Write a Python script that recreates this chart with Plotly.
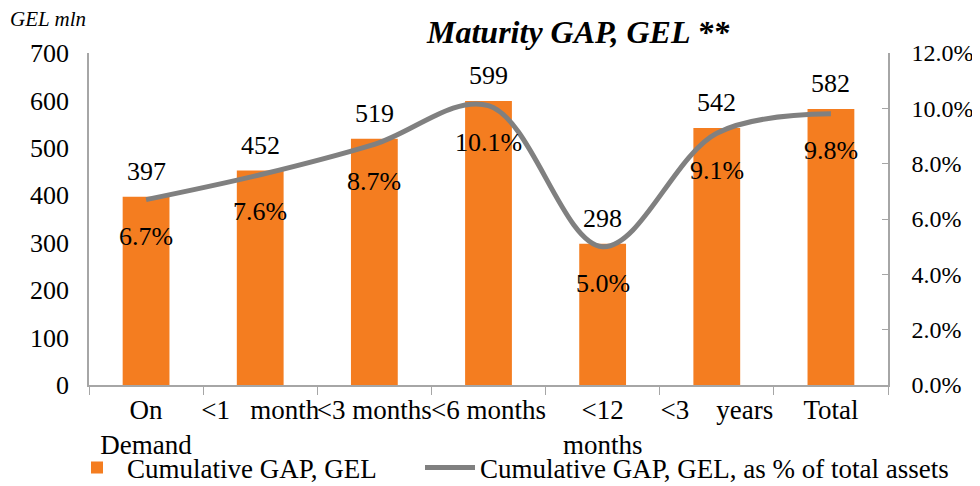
import plotly.graph_objects as go

categories = ["On Demand", "<1 month", "<3 months", "<6 months", "<12 months", "<3 years", "Total"]
tick_labels = ["On<br>Demand", "<1\u00a0\u00a0\u00a0month", "<3 months", "<6 months", "<12<br>months",
               "<3\u00a0\u00a0\u00a0\u00a0years", "Total"]
gap_gel = [397, 452, 519, 599, 298, 542, 582]
gap_pct = [6.7, 7.6, 8.7, 10.1, 5.0, 9.1, 9.8]
legend_names = ["Cumulative GAP, GEL", "Cumulative GAP, GEL, as % of total assets"]

FONT = "Liberation Serif, Times New Roman, serif"
ORANGE = "#F47D20"
GREY = "#808080"
AXIS = "#A6A6A6"
FS = 26

OFF = 8  # page body margin
W, H = 980, 486
# target plot area in screen pixels: x 89..888, y 53..385
L = 89 - OFF
T = 53 - OFF
R = W - (888 - OFF)
B = H - (385 - OFF)
pw, ph = W - L - R, H - T - B


def px(x):
    return (x - OFF - L) / pw


def py(y):
    return (H - B - (y - OFF)) / ph


fig = go.Figure()
fig.add_trace(go.Bar(
    x=categories, y=gap_gel, name=legend_names[0],
    marker=dict(color=ORANGE, line=dict(width=0)), width=0.41, yaxis="y",
    legend="legend",
))
fig.add_trace(go.Scatter(
    x=categories, y=gap_pct, name=legend_names[1],
    mode="lines", line=dict(color=GREY, width=5, shape="spline", smoothing=1),
    yaxis="y2", legend="legend2",
))

for c, v in zip(categories, gap_gel):
    fig.add_annotation(x=c, y=v, xref="x", yref="y", text=str(v), showarrow=False,
                       yanchor="bottom", yshift=9, font=dict(family=FONT, size=FS, color="black"))
for c, v in zip(categories, gap_pct):
    fig.add_annotation(x=c, y=v, xref="x", yref="y2", text=f"{v:.1f}%", showarrow=False,
                       yanchor="middle", yshift=-37, font=dict(family=FONT, size=FS, color="black"))

fig.add_annotation(x=px(578), y=py(32), xref="paper", yref="paper",
                   text="<b><i>Maturity GAP, GEL **</i></b>", showarrow=False,
                   xanchor="center", yanchor="middle",
                   font=dict(family=FONT, size=32, color="black"))
fig.add_annotation(x=px(8), y=py(19), xref="paper", yref="paper", text="<i>GEL mln</i>",
                   showarrow=False, xanchor="left", yanchor="middle",
                   font=dict(family=FONT, size=21, color="black"))

legend_common = dict(orientation="h", xref="container", xanchor="left",
                     yref="container", y=(H - (468 - OFF)) / H, yanchor="middle",
                     font=dict(family=FONT, size=27, color="black"),
                     itemwidth=50, bgcolor="rgba(0,0,0,0)")

fig.update_layout(
    width=W, height=H,
    margin=dict(l=L, r=R, t=T, b=B, autoexpand=False),
    paper_bgcolor="white", plot_bgcolor="white",
    font=dict(family=FONT, size=FS, color="black"),
    showlegend=True,
    legend=dict(x=(67 - OFF) / W, **legend_common),
    legend2=dict(x=(420 - OFF) / W, **legend_common),
    xaxis=dict(type="category", tickvals=categories, ticktext=tick_labels,
               showline=True, linecolor=AXIS, linewidth=1.5,
               ticks="outside", tickson="boundaries", ticklen=8, tickcolor=AXIS,
               tickangle=0,
               showgrid=False, zeroline=False, automargin=False,
               tickfont=dict(family=FONT, size=27, color="black")),
    yaxis=dict(range=[0, 700], dtick=100, showline=True, linecolor=AXIS, linewidth=1.5,
               ticks="", showgrid=False, zeroline=False, automargin=False,
               ticklabelstandoff=13,
               tickfont=dict(family=FONT, size=FS, color="black")),
    yaxis2=dict(range=[0, 12], dtick=2, overlaying="y", side="right",
                showline=True, linecolor=AXIS, linewidth=1.5,
                ticks="inside", ticklen=6, tickcolor=AXIS,
                ticksuffix="%", tickformat=".1f", automargin=False,
                ticklabelstandoff=17,
                showgrid=False, zeroline=False,
                tickfont=dict(family=FONT, size=24, color="black")),
)

fig.write_html("out.html")
